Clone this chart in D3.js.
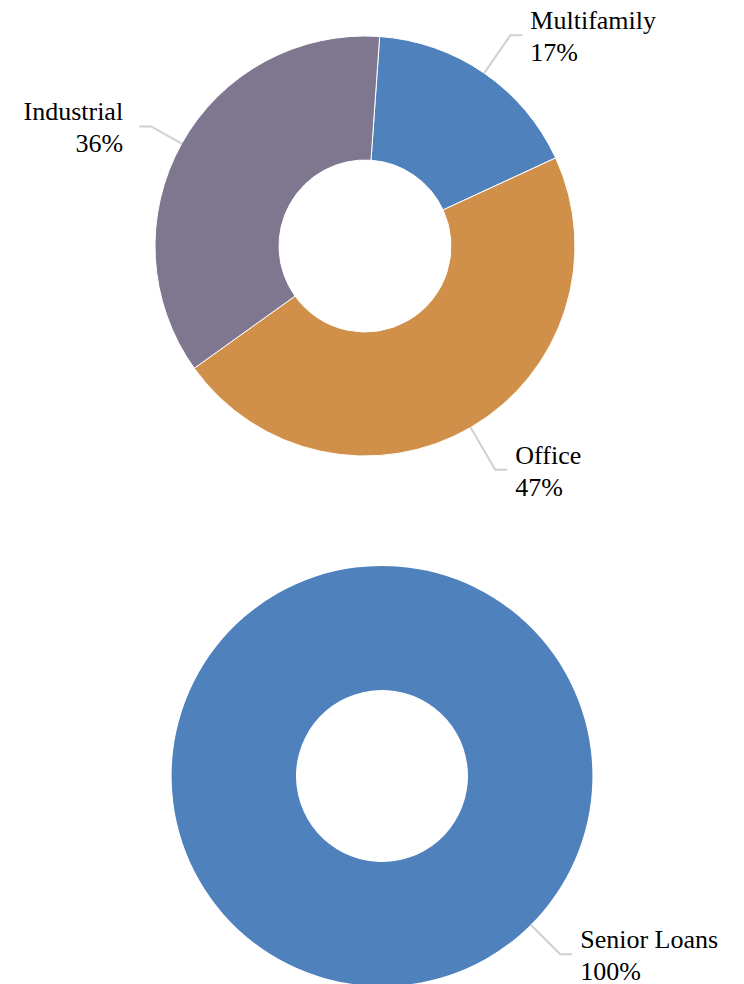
<!DOCTYPE html>
<html>
<head>
<meta charset="utf-8">
<script src="https://cdn.jsdelivr.net/npm/d3@7"></script>
<style>
  body { margin: 0; background: #fff; }
  text { font-family: "Liberation Serif", "Times New Roman", serif; font-size: 26px; fill: #000; }
</style>
</head>
<body>
<script>
// Chart data
var propertyTypes = ["Multifamily", "Office", "Industrial"];
var propertyShares = [17, 47, 36];
var propertyColors = ["#4f81bd", "#d19049", "#7f768f"];

var loanTypes = ["Senior Loans"];
var loanShares = [100];
var loanColors = ["#4f81bd"];

var width = 744, height = 984;

var svg = d3.select("body").append("svg")
    .attr("width", width)
    .attr("height", height);

// Excel rotates the first slice a few degrees
var firstAngle = 4 * Math.PI / 180;

function drawDonut(cx, cy, names, values, colors, opts) {
  var outer = 210, inner = 86;

  var pie = d3.pie()
      .sort(null)
      .startAngle(firstAngle)
      .endAngle(firstAngle + 2 * Math.PI);

  var arc = d3.arc()
      .innerRadius(inner)
      .outerRadius(outer);

  var slices = pie(values);

  var g = svg.append("g")
      .attr("transform", "translate(" + cx + "," + cy + ")");

  g.selectAll("path")
    .data(slices)
    .enter()
    .append("path")
    .attr("d", arc)
    .style("fill", function(d, i) { return colors[i]; })
    .style("stroke", slices.length > 1 ? "#fff" : "none")
    .style("stroke-width", "1px");

  // leader lines + labels
  slices.forEach(function(d, i) {
    var a = opts.angles ? opts.angles[i] : (d.startAngle + d.endAngle) / 2;
    var bendR = opts.bend[i];
    var sx = Math.sin(a), sy = -Math.cos(a);
    var p0 = [sx * outer, sy * outer];
    var p1 = [sx * bendR, sy * bendR];
    var right = sx >= 0;
    var p2 = [p1[0] + (right ? 12 : -12), p1[1]];

    g.append("polyline")
      .attr("points", [p0, p1, p2].map(function(p) { return p.join(","); }).join(" "))
      .style("fill", "none")
      .style("stroke", "#d0d0d0")
      .style("stroke-width", "2px");

    var tx = p2[0] + (right ? 8 : -16);
    var label = g.append("text")
      .attr("text-anchor", right ? "start" : "end");
    label.append("tspan")
      .attr("x", tx)
      .attr("y", p1[1] - 6)
      .text(names[i]);
    label.append("tspan")
      .attr("x", tx)
      .attr("y", p1[1] + 26)
      .text(values[i] + "%");
  });
}

drawDonut(365, 246, propertyTypes, propertyShares, propertyColors,
  {bend: [256, 259, 245]});
drawDonut(382, 776, loanTypes, loanShares, loanColors,
  {bend: [252], angles: [135 * Math.PI / 180]});
</script>
</body>
</html>
